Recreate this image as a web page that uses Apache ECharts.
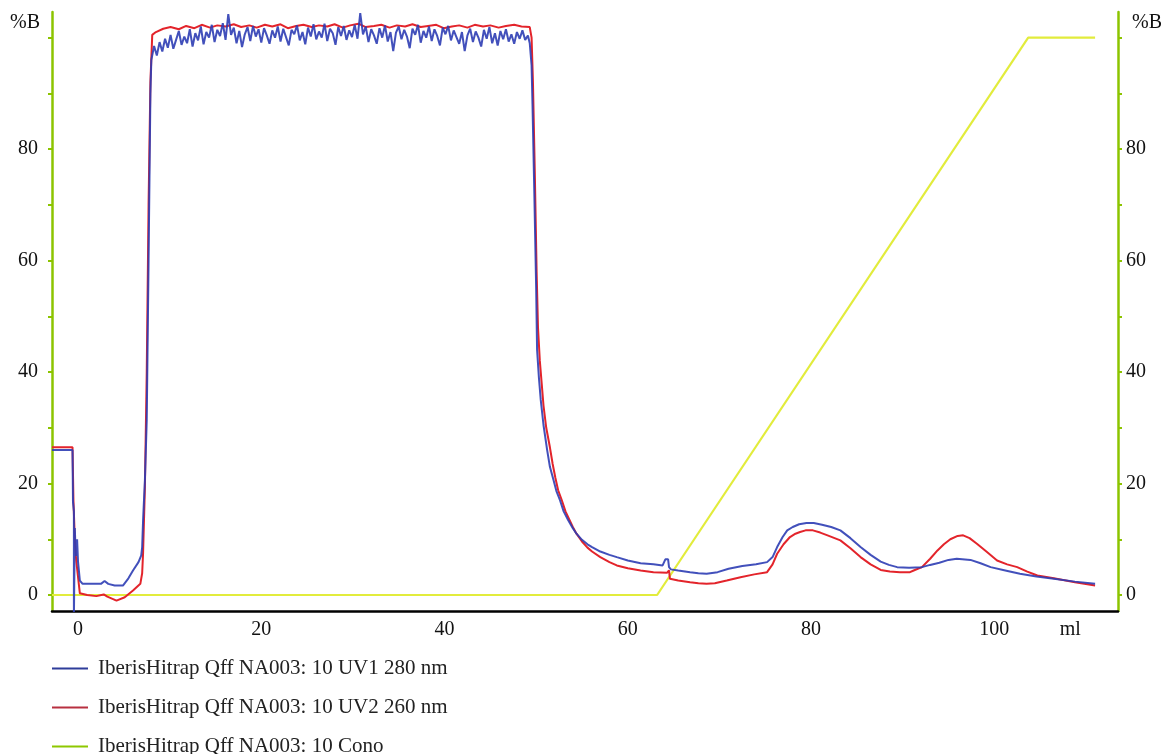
<!DOCTYPE html>
<html>
<head>
<meta charset="utf-8">
<script src="https://cdn.jsdelivr.net/npm/echarts@6/dist/echarts.min.js"></script>
<style>
html,body{margin:0;padding:0;background:#fff;}
#chart{width:1161px;height:754px;}
</style>
</head>
<body>
<div id="chart"></div>
<script>
// ---- data (ml, value) ----
const seriesNames = [
  'IberisHitrap Qff NA003: 10 UV1 280 nm',
  'IberisHitrap Qff NA003: 10 UV2 260 nm',
  'IberisHitrap Qff NA003: 10 Cono'
];
const legendColors = ['#2e3d9a', '#b83040', '#8ec800'];
const xTickValues = [0, 20, 40, 60, 80, 100];
const xAxisUnitLabel = 'ml';
const xAxisUnitPos = 108.3;
const yTickValues = [0, 10, 20, 30, 40, 50, 60, 70, 80, 90, 100];
const yLabelValues = [0, 20, 40, 60, 80];
const yAxisName = '%B';

const uv1 = [
  [-2.84,26.0],[-0.6,26.0],[-0.55,16.7],[-0.45,15.0],[-0.45,-4.0],[-0.35,12.0],[-0.25,7.0],[-0.1,10.0],[0.0,6.0],
  [0.2,2.6],[0.5,2.0],[1.5,2.0],[2.5,2.0],[2.9,2.5],[3.3,2.0],[4.0,1.7],[4.9,1.7],[5.5,3.0],[6.0,4.4],[6.6,5.9],
  [6.9,7.1],[7.0,8.6],[7.1,13.4],[7.3,20.6],[7.5,31.4],[7.7,60],[7.9,90],
  [8.0,96.0],[8.3,98.5],[8.6,96.8],[8.9,99.2],[9.2,97.5],[9.5,99.8],[9.8,98.2],[10.1,100.5],[10.4,98.0],[10.7,99.6],
  [11.0,101.2],[11.3,98.7],[11.6,100.2],[11.9,99.0],[12.2,101.5],[12.5,98.4],[12.8,100.8],[13.1,99.5],[13.4,102.0],[13.7,98.8],
  [14.0,101.0],[14.3,100.0],[14.6,102.3],[14.9,99.2],[15.2,101.4],[15.5,100.3],[15.8,102.6],[16.1,99.6],[16.4,104.2],[16.7,100.5],
  [17.0,101.8],[17.3,99.0],[17.6,101.2],[17.9,98.3],[18.2,100.6],[18.5,101.9],[18.8,99.4],[19.1,102.1],[19.4,100.2],[19.7,101.5],
  [20.0,99.1],[20.3,101.7],[20.6,100.4],[20.9,98.9],[21.2,101.3],[21.5,100.0],[21.8,102.0],[22.1,99.3],[22.4,101.6],[22.7,100.1],
  [23.0,98.6],[23.3,101.4],[23.6,100.6],[23.9,102.2],[24.2,99.5],[24.5,101.0],[24.8,98.8],[25.1,101.8],[25.4,100.2],[25.7,102.4],
  [26.0,99.7],[26.3,101.1],[26.6,100.0],[26.9,102.5],[27.2,99.4],[27.5,101.6],[27.8,100.8],[28.1,98.7],[28.4,101.9],[28.7,100.3],
  [29.0,102.1],[29.3,99.6],[29.6,101.3],[29.9,100.1],[30.2,102.3],[30.5,99.8],[30.8,104.4],[31.1,100.6],[31.4,102.0],[31.7,99.2],
  [32.0,101.5],[32.3,100.4],[32.6,98.9],[32.9,101.7],[33.2,100.0],[33.5,102.2],[33.8,99.3],[34.1,101.0],[34.4,97.6],[34.7,100.9],
  [35.0,102.0],[35.3,99.7],[35.6,101.4],[35.9,100.2],[36.2,98.1],[36.5,101.6],[36.8,100.5],[37.1,102.3],[37.4,99.1],[37.7,101.2],
  [38.0,100.0],[38.3,102.0],[38.6,99.4],[38.9,101.5],[39.2,100.3],[39.5,98.6],[39.8,101.8],[40.1,100.6],[40.4,102.1],[40.7,99.5],
  [41.0,101.3],[41.3,100.1],[41.6,98.9],[41.9,101.0],[42.2,97.6],[42.5,100.4],[42.8,101.6],[43.1,99.2],[43.4,101.1],[43.7,100.0],
  [44.0,98.4],[44.3,101.4],[44.6,99.8],[44.9,101.9],[45.2,99.0],[45.5,100.8],[45.8,98.6],[46.1,101.2],[46.4,99.7],[46.7,101.5],
  [47.0,99.3],[47.3,100.6],[47.6,98.9],[47.9,101.0],[48.2,99.8],[48.5,101.3],[48.8,99.6],[49.1,100.4],[49.3,99.0],
  [49.5,95],[49.6,88],[49.8,72],[50.0,55],[50.1,44],[50.3,39],[50.5,35],[50.8,30.5],[51.2,26],[51.5,23],[51.9,20.6],
  [52.2,18.7],[52.6,17],[53.0,15],[53.5,13.4],[54.0,12],[54.4,11],[55.0,9.9],[55.6,9.1],[56.1,8.6],[57.0,7.8],[58.0,7.2],
  [58.8,6.8],[60.0,6.2],[61.4,5.7],[62.8,5.5],[63.8,5.3],[64.0,5.5],[64.1,6.4],[64.4,6.4],[64.5,5.0],[64.7,4.6],[65.5,4.4],
  [66.8,4.1],[67.7,3.9],[68.6,3.8],[69.8,4.1],[71.0,4.7],[72.5,5.2],[74.0,5.5],[75.2,5.9],[75.8,6.8],[76.3,8.6],[76.9,10.4],
  [77.4,11.6],[78.0,12.2],[78.7,12.7],[79.5,12.9],[80.3,12.9],[81.2,12.6],[82.2,12.2],[83.2,11.6],[84.3,10.2],[85.4,8.6],
  [86.5,7.2],[87.6,6.0],[88.5,5.4],[89.4,5.0],[90.7,4.9],[92.1,5.0],[93.0,5.4],[94.0,5.8],[95.0,6.3],[95.9,6.5],[97.4,6.3],
  [98.5,5.7],[99.6,5.0],[101.2,4.4],[102.8,3.8],[104.6,3.3],[106.5,2.9],[108.8,2.4],[111.0,2.0]
];

const uv2 = [
  [-2.84,26.5],[-0.6,26.5],[-0.5,17],[-0.35,10],[-0.2,6.2],[0.2,0.3],[1.0,0.0],[2.0,-0.2],[2.8,0.1],[3.2,-0.3],
  [4.2,-1.0],[5.1,-0.4],[6.0,0.8],[6.8,2.0],[7.0,3.9],[7.1,7.5],[7.3,19.4],[7.5,40],[7.7,70],[7.9,92],[8.1,100.5],
  [8.5,101.0],[9.3,101.6],[10.1,101.9],[11.0,101.5],[11.8,102.1],[12.7,101.7],[13.5,102.3],[14.4,101.8],[15.2,102.2],
  [16.1,102.0],[17.0,102.4],[17.8,101.9],[18.7,102.2],[19.5,101.8],[20.4,102.3],[21.2,102.0],[22.1,102.4],[22.9,101.7],
  [23.8,102.1],[24.6,102.3],[25.5,101.9],[26.3,102.2],[27.2,102.0],[28.0,102.4],[28.9,101.8],[29.7,102.2],[30.6,102.5],
  [31.4,101.9],[32.3,102.1],[33.1,102.3],[34.0,101.8],[34.8,102.2],[35.7,102.0],[36.5,102.4],[37.4,101.9],[38.2,102.1],
  [39.1,102.3],[39.9,101.7],[40.8,102.0],[41.6,102.2],[42.5,101.8],[43.3,102.3],[44.2,102.0],[45.0,102.2],[45.9,101.8],
  [46.7,102.1],[47.6,102.3],[48.4,102.0],[49.3,101.9],
  [49.5,100],[49.65,92],[49.85,76],[50.05,58],[50.2,48],[50.4,42],[50.6,38],[50.8,34],[51.1,30],[51.5,26.5],[51.8,23.5],
  [52.1,21],[52.4,18.8],[52.8,17],[53.2,15],[53.6,13.6],[54.0,12.2],[54.4,11],[55.0,9.6],[55.6,8.5],[56.1,7.8],[57.0,6.8],
  [58.0,5.9],[58.8,5.3],[60.0,4.8],[61.4,4.4],[62.8,4.1],[64.3,4.0],[64.5,4.4],[64.6,2.9],[65.5,2.6],[66.8,2.3],[67.7,2.1],
  [68.6,2.0],[69.5,2.1],[70.8,2.6],[72.3,3.2],[73.8,3.7],[75.2,4.1],[75.8,5.5],[76.3,7.4],[77.0,9.1],[77.7,10.4],[78.3,11.0],
  [78.8,11.3],[79.4,11.6],[80.2,11.6],[81.0,11.2],[81.8,10.7],[83.2,9.8],[84.3,8.4],[85.4,6.8],[86.5,5.5],[87.6,4.5],
  [88.6,4.2],[89.7,4.1],[90.8,4.1],[91.2,4.4],[92.1,5.0],[93.0,6.5],[93.8,8.0],[94.5,9.1],[95.2,10.0],[96.0,10.6],[96.6,10.7],
  [97.3,10.2],[98.1,9.2],[99.2,7.7],[100.3,6.2],[101.4,5.5],[102.5,5.0],[103.6,4.2],[104.7,3.5],[106.5,3.0],[108.8,2.3],[111.0,1.7]
];

const cono = [[-2.84,0],[63.2,0],[103.7,100],[111.0,100]];

// ---- chart ----
const FONT = 'Liberation Serif';
const chart = echarts.init(document.getElementById('chart'), null, {renderer:'canvas'});
const green = '#8cc400';
function yAxisFor(pos, margin){
  return {
    type:'value', min:-2.87, max:104.6, position:pos,
    splitLine:{show:false},
    axisLine:{show:true, onZero:false, lineStyle:{color:green, width:2.5}},
    axisTick:{show:true, length:4, lineStyle:{color:green, width:2}, customValues:yTickValues},
    axisLabel:{customValues:yLabelValues, color:'#111', fontFamily:FONT, fontSize:20, margin:margin}
  };
}
const legendRowTops = [658, 697, 736];
const legends = seriesNames.map((n, i) => ({
  orient:'vertical', left:52, top:legendRowTops[i], padding:0,
  icon:'rect', itemWidth:36, itemHeight:2,
  textStyle:{fontFamily:FONT, fontSize:21, color:'#222', padding:[0,0,0,5]},
  data:[{name:n, itemStyle:{color:legendColors[i]}}]
}));
chart.setOption({
  animation:false,
  backgroundColor:'#fff',
  grid:{left:52, right:43, top:12, bottom:143, containLabel:false},
  xAxis:{
    type:'value', min:-2.84, max:113.5,
    splitLine:{show:false},
    axisLine:{show:true, onZero:false, lineStyle:{color:'#000', width:2.5}},
    axisTick:{show:false},
    axisLabel:{
      customValues: xTickValues.concat([xAxisUnitPos]),
      formatter: v => (v === xAxisUnitPos ? xAxisUnitLabel : String(v)),
      color:'#111', fontFamily:FONT, fontSize:20, margin:9
    }
  },
  yAxis:[ yAxisFor('left', 14), yAxisFor('right', 8) ],
  legend:legends,
  graphic:[
    {type:'text', left:10, top:13, style:{text:yAxisName, font:'20px "Liberation Serif"', fill:'#111'}},
    {type:'text', left:1132, top:13, style:{text:yAxisName, font:'20px "Liberation Serif"', fill:'#111'}}
  ],
  series:[
    {name:seriesNames[2], type:'line', data:cono, showSymbol:false, symbol:'none',
     lineStyle:{color:'#e2ec3c', width:2.2}, itemStyle:{color:'#e2ec3c'}},
    {name:seriesNames[1], type:'line', data:uv2, showSymbol:false, symbol:'none',
     lineStyle:{color:'#e3242b', width:2}, itemStyle:{color:'#e3242b'}},
    {name:seriesNames[0], type:'line', data:uv1, showSymbol:false, symbol:'none',
     lineStyle:{color:'#2e3db4', width:2, opacity:0.9}, itemStyle:{color:'#2e3db4'}}
  ]
});
</script>
</body>
</html>
